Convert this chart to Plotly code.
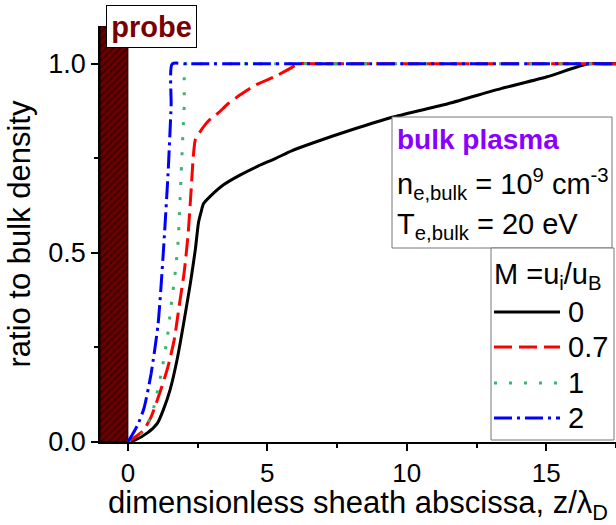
import plotly.graph_objects as go

# ---------------- data ----------------
series_names = ["0", "0.7", "1", "2"]
series_colors = ["#000000", "#ff0000", "#3cb371", "#0000ff"]
series_dash = ["solid", "18px,7px", "3px,12px", "18px,5px,3px,5px"]

x_m0 = [0, 0.25, 0.7, 1.06, 1.27, 1.52, 1.77, 1.99, 2.24, 2.42, 2.53, 2.63, 2.71, 2.96,
        3.43, 4.0, 4.68, 5.3, 5.87, 6.6, 8.0, 9.55, 11.5, 13.4, 15.0, 16.5, 17.0, 17.5]
y_m0 = [0, 0.005, 0.024, 0.05, 0.085, 0.14, 0.22, 0.31, 0.42, 0.51, 0.58, 0.61, 0.63, 0.65,
        0.68, 0.705, 0.73, 0.75, 0.77, 0.79, 0.825, 0.86, 0.895, 0.935, 0.965, 1.0, 1.0, 1.0]

x_m07 = [0, 0.2, 0.55, 0.83, 1.19, 1.44, 1.66, 1.84, 2.02, 2.16, 2.27, 2.34, 2.42, 2.63, 2.9,
         3.24, 3.6, 4.07, 4.6, 5.26, 5.87, 6.1, 7.0, 17.5]
y_m07 = [0, 0.01, 0.03, 0.066, 0.14, 0.2, 0.27, 0.36, 0.45, 0.55, 0.67, 0.75, 0.8, 0.825, 0.85,
         0.87, 0.895, 0.92, 0.945, 0.966, 0.99, 1.0, 1.0, 1.0]

x_m1 = [0, 0.25, 0.47, 0.83, 1.19, 1.4, 1.55, 1.70, 1.80, 1.91, 2.02, 2.09, 2.6, 17.5]
y_m1 = [0, 0.005, 0.02, 0.066, 0.18, 0.27, 0.36, 0.45, 0.53, 0.71, 0.89, 1.0, 1.0, 1.0]

x_m2 = [0, 0.11, 0.35, 0.58, 0.83, 1.08, 1.26, 1.44, 1.55, 1.59, 2.1, 17.5]
y_m2 = [0, 0.013, 0.045, 0.09, 0.18, 0.31, 0.49, 0.71, 0.89, 1.0, 1.0, 1.0]

series_x = [x_m0, x_m07, x_m1, x_m2]
series_y = [y_m0, y_m07, y_m1, y_m2]

probe_left, probe_right, probe_top = -1.0, 0.0, 1.1

x_range = [-1.0, 17.5]
y_range = [0.0, 1.1]
x_ticks = [0, 5, 10, 15]
y_ticks = [0.0, 0.5, 1.0]

# ---------------- layout geometry (pixels) ----------------
W, H = 616, 525
ML, MR, MT, MB = 100, 0, 26, 83
PW, PH = W - ML - MR, H - MT - MB


def px(xp):
    return (xp - ML) / PW


def py(yp):
    return (H - MB - yp) / PH


FONT = "Liberation Sans, Arial, sans-serif"
FS = 26
FS_BOX = 29

fig = go.Figure()

# probe bar
fig.add_trace(go.Bar(
    x=[(probe_left + probe_right) / 2], y=[probe_top], width=[probe_right - probe_left],
    marker=dict(color="#6b0000", line=dict(color="#000000", width=1),
                pattern=dict(shape="/", fgcolor="#000000", bgcolor="#6b0000", size=5, solidity=0.3,
                             fillmode="overlay")),
    showlegend=False, hoverinfo="skip"))

for xs, ys, nm, c, d in zip(series_x, series_y, series_names, series_colors, series_dash):
    fig.add_trace(go.Scatter(x=xs, y=ys, mode="lines", name=nm,
                             line=dict(color=c, width=3, dash=d, shape="spline", smoothing=0.6),
                             showlegend=False))

axis_common = dict(showline=True, linecolor="#000", linewidth=1.5, showgrid=False,
                   zeroline=False, tickcolor="#000", tickwidth=1.5)

fig.update_layout(
    width=W, height=H, margin=dict(l=ML, r=MR, t=MT, b=MB),
    paper_bgcolor="white", plot_bgcolor="white",
    font=dict(family=FONT, size=FS, color="#000"),
    showlegend=False,
    xaxis=dict(range=x_range, tickvals=x_ticks, ticks="outside", ticklen=7,
               tickfont=dict(size=26),
               minor=dict(dtick=2.5, tick0=0, ticks="outside", ticklen=4, tickcolor="#000", tickwidth=1.5),
               title=dict(text="dimensionless sheath abscissa, z/λ<sub>D</sub>", standoff=9),
               **axis_common),
    yaxis=dict(range=y_range, tickvals=y_ticks, tickformat=".1f", ticks="outside", ticklen=7,
               tickfont=dict(size=27),
               minor=dict(dtick=0.25, tick0=0, ticks="outside", ticklen=4, tickcolor="#000", tickwidth=1.5),
               title=dict(text="ratio to bulk density", standoff=8),
               **axis_common),
    xaxis2=dict(range=x_range, overlaying="x", side="top", tickvals=x_ticks, ticks="inside",
                ticklen=7, showticklabels=False,
                minor=dict(dtick=2.5, tick0=0, ticks="inside", ticklen=4, tickcolor="#000", tickwidth=1.5),
                **axis_common),
    yaxis2=dict(range=y_range, overlaying="y", side="right", tickvals=y_ticks, ticks="inside",
                ticklen=7, showticklabels=False,
                minor=dict(dtick=0.25, tick0=0, ticks="inside", ticklen=4, tickcolor="#000", tickwidth=1.5),
                **axis_common),
)

shapes = []
annotations = []

# probe label
annotations.append(dict(xref="paper", yref="paper", x=px(151.5), y=py(26.5),
                        xanchor="center", yanchor="middle", showarrow=False,
                        text="<b>probe</b>", font=dict(size=29, color="#7a0000"),
                        bgcolor="white", bordercolor="#000", borderwidth=1,
                        width=87, height=39))

# bulk plasma box
shapes.append(dict(type="rect", xref="paper", yref="paper", x0=px(392), x1=px(612),
                   y0=py(248), y1=py(117), fillcolor="white", line=dict(color="#777", width=1)))
annotations.append(dict(xref="paper", yref="paper", x=px(395), y=py(139), xanchor="left",
                        yanchor="middle", showarrow=False, text="<b>bulk plasma</b>",
                        font=dict(size=FS_BOX - 1, color="#8a00ff")))
annotations.append(dict(xref="paper", yref="paper", x=px(395), y=py(184), xanchor="left",
                        yanchor="middle", showarrow=False,
                        text="n<sub>e,bulk</sub> = 10<sup>9</sup> cm<sup>-3</sup>",
                        font=dict(size=FS_BOX)))
annotations.append(dict(xref="paper", yref="paper", x=px(395), y=py(226), xanchor="left",
                        yanchor="middle", showarrow=False,
                        text="T<sub>e,bulk</sub> = 20 eV", font=dict(size=FS_BOX)))

# legend box
shapes.append(dict(type="rect", xref="paper", yref="paper", x0=px(491), x1=px(614),
                   y0=py(440), y1=py(248), fillcolor="white", line=dict(color="#777", width=1)))
annotations.append(dict(xref="paper", yref="paper", x=px(492), y=py(276), xanchor="left",
                        yanchor="middle", showarrow=False, text="M =u<sub>i</sub>/u<sub>B</sub>",
                        font=dict(size=FS_BOX)))
leg_y = [312, 347, 383, 418]
for nm, c, d, ly in zip(series_names, series_colors, series_dash, leg_y):
    shapes.append(dict(type="line", xref="paper", yref="paper", x0=px(494), x1=px(560),
                       y0=py(ly), y1=py(ly), line=dict(color=c, width=3, dash=d)))
    annotations.append(dict(xref="paper", yref="paper", x=px(566), y=py(ly), xanchor="left",
                            yanchor="middle", showarrow=False, text=nm, font=dict(size=FS_BOX)))

fig.update_layout(shapes=shapes, annotations=annotations)
fig.write_html("out.html")
